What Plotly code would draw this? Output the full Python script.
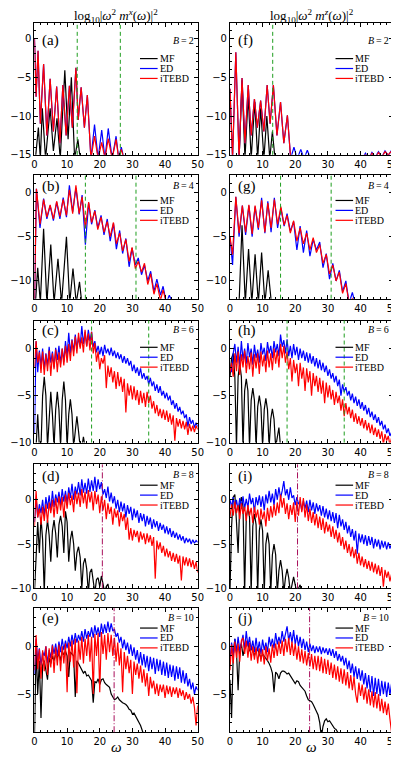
import plotly.graph_objects as go
from plotly.subplots import make_subplots

# ---- frequency grid shared by panels (c)-(j) ----
omega = [
    0.0, 0.5, 1.0, 1.5, 2.0, 2.5, 3.0, 3.5, 4.0, 4.5,
    5.0, 5.5, 6.0, 6.5, 7.0, 7.5, 8.0, 8.5, 9.0, 9.5,
    10.0, 10.5, 11.0, 11.5, 12.0, 12.5, 13.0, 13.5, 14.0, 14.5,
    15.0, 15.5, 16.0, 16.5, 17.0, 17.5, 18.0, 18.5, 19.0, 19.5,
    20.0, 20.5, 21.0, 21.5, 22.0, 22.5, 23.0, 23.5, 24.0, 24.5,
    25.0, 25.5, 26.0, 26.5, 27.0, 27.5, 28.0, 28.5, 29.0, 29.5,
    30.0, 30.5, 31.0, 31.5, 32.0, 32.5, 33.0, 33.5, 34.0, 34.5,
    35.0, 35.5, 36.0, 36.5, 37.0, 37.5, 38.0, 38.5, 39.0, 39.5,
    40.0, 40.5, 41.0, 41.5, 42.0, 42.5, 43.0, 43.5, 44.0, 44.5,
    45.0, 45.5, 46.0, 46.5, 47.0, 47.5, 48.0, 48.5, 49.0, 49.5,
    50.0,
]

# ---- (a) B=2, m^x ----
a_x = [0.0, 0.5, 1.1, 1.8, 2.8, 3.8, 4.8, 5.8, 6.8, 7.8, 8.7, 9.7, 10.7, 11.6, 12.7,
       13.4, 14.3, 15.3, 16.2, 17.3, 18.4, 19.5, 20.6, 21.6, 22.6, 23.8, 25.0, 25.8, 26.6, 27.4]
a_ed = [0.0, -7.5, -1.6, -11.0, -3.3, -12.5, -5.2, -12.0, -6.2, -13.5, -6.0, -12.5, -6.1, -11.5, -3.8,
        -10.5, -6.3, -11.5, -7.3, -15.5, -11.1, -15.5, -11.8, -15.5, -11.6, -15.5, -12.6, -15.5, -14.0, -15.5]
a_it = [0.0, -7.5, -1.6, -11.0, -3.3, -12.5, -5.2, -12.0, -6.2, -13.5, -6.0, -12.5, -6.1, -11.5, -3.8,
        -10.5, -6.3, -11.5, -7.3, -15.5, -12.6, -15.5, -13.4, -15.5, -12.9, -15.5, -13.0, -15.5, -14.3, -15.5]
a_mf_x = [0.3, 1.2, 1.8, 2.4, 3.4, 4.8, 5.8, 6.9, 7.9, 9.3, 10.3, 11.3, 12.3, 13.3, 14.0]
a_mf = [-15.5, -11.5, -15.5, -9.0, -15.5, -9.0, -14.5, -10.3, -15.5, -4.1, -13.0, -5.0, -15.5, -13.0, -15.5]

# ---- (f) B=2, m^z ----
f_x = [0.0, 0.8, 1.8, 2.8, 3.7, 4.6, 5.6, 6.5, 7.5, 8.4, 9.4, 10.4, 11.4, 12.3, 13.3, 14.4, 15.5, 16.5,
       17.6, 18.6, 19.6, 20.6, 21.7, 22.7, 23.7, 24.7,
       40.5, 41.5, 42.5, 43.5, 44.5, 45.5, 46.5, 47.5, 48.5, 49.5, 50.0]
f_ed = [-6.5, -15.5, -1.8, -15.5, -5.1, -13.5, -6.0, -12.5, -7.8, -11.5, -8.0, -12.0, -6.0, -11.0, -6.0,
        -12.5, -8.2, -13.5, -9.9, -15.5, -14.0, -15.5, -14.3, -15.5, -14.4, -15.5,
        -15.5, -14.8, -15.5, -14.7, -15.3, -14.6, -15.3, -14.5, -15.1, -14.4, -14.3]
f_it = [-6.5, -15.5, -1.8, -15.5, -5.1, -13.5, -6.0, -12.5, -7.8, -11.5, -8.0, -12.0, -6.0, -11.0, -6.0,
        -12.5, -8.2, -13.5, -9.9, -15.5, -15.2, -15.5, -15.4, -15.5, -15.5, -15.5,
        -15.5, -15.0, -15.5, -14.8, -15.4, -14.7, -15.3, -14.6, -15.0, -14.5, -14.4]
f_mf_x = [2.8, 3.7, 4.6, 5.6, 6.5, 7.6, 8.5, 9.4, 10.4, 11.3, 12.2, 13.0, 13.8]
f_mf = [-15.5, -5.4, -15.5, -7.4, -15.5, -8.2, -15.5, -9.0, -15.5, -10.0, -15.5, -12.0, -15.5]

# ---- (b) B=4, m^x ----
b_x = [0.0, 0.6, 1.7, 2.8, 3.8, 4.8, 5.8, 6.8, 7.8, 8.8, 9.8, 10.7, 11.7, 12.7, 13.7, 14.6, 15.6, 16.6,
       17.5, 18.5, 19.4, 20.4, 21.3, 22.3, 23.2, 24.2, 25.1, 26.1, 27.0, 28.0, 29.0, 29.9, 30.9, 31.8,
       32.8, 33.7, 34.7, 35.6, 36.6, 37.5, 38.6, 39.4, 40.4, 41.3, 42.3]
b_ed = [-12.5, 0.4, -4.0, -0.7, -3.0, -1.5, -3.2, -1.1, -3.0, -0.6, -2.8, 0.8, -2.2, 0.5, -2.5, -0.3,
        -5.9, -1.2, -3.6, -2.0, -4.0, -2.6, -4.8, -3.0, -5.5, -3.5, -6.4, -4.3, -6.9, -5.2, -8.4, -6.3,
        -8.2, -7.4, -9.3, -8.2, -10.0, -8.9, -11.2, -9.8, -11.6, -10.6, -12.5, -11.6, -12.5]
b_it = [-12.5, 0.4, -3.6, -0.8, -2.8, -1.4, -3.0, -1.0, -2.7, -0.8, -2.6, 0.3, -2.4, 0.8, -2.4, -0.5,
        -4.0, -1.1, -3.4, -2.1, -4.2, -2.8, -4.5, -3.3, -5.0, -3.4, -5.8, -4.6, -6.6, -5.3, -7.8, -6.2,
        -8.6, -7.8, -9.0, -8.0, -10.4, -9.2, -11.5, -10.3, -12.2, -11.0, -12.5, -12.3, -12.5]
b_mf_x = [0.3, 1.0, 1.8, 2.8, 3.8, 5.0, 6.0, 7.2, 8.3, 9.8, 10.8, 11.8, 12.8, 13.8, 14.5]
b_mf = [-12.5, -8.5, -12.5, -4.1, -12.5, -5.9, -12.5, -7.5, -12.5, -5.0, -12.5, -8.6, -12.5, -10.1, -12.5]

# ---- (g) B=4, m^z ----
g_x = [0.0, 0.8, 1.8, 2.8, 3.8, 4.8, 5.8, 6.8, 7.7, 8.7, 9.7, 10.7, 11.6, 12.6, 13.6, 14.6, 15.6, 16.6,
       17.5, 18.5, 19.5, 20.5, 21.5, 22.5, 23.5, 24.5, 25.5, 26.5, 27.5, 28.5, 29.5, 30.5, 31.5, 32.5,
       33.5, 34.5, 35.5, 36.5, 37.5, 38.3]
g_ed = [-5.0, -8.2, -0.5, -5.0, -1.5, -4.8, -1.5, -5.0, -1.6, -4.2, -0.6, -4.6, -1.0, -4.5, -0.6, -4.0,
        -1.8, -3.8, -2.4, -4.4, -3.3, -6.5, -3.8, -6.8, -4.3, -7.2, -5.3, -6.5, -5.6, -8.5, -6.9, -9.8,
        -8.0, -10.0, -8.8, -11.2, -10.0, -12.5, -11.3, -12.5]
g_it = [-5.0, -7.0, -0.5, -4.6, -1.5, -4.5, -1.4, -4.7, -1.5, -4.0, -0.9, -4.5, -1.2, -4.0, -0.8, -3.6,
        -1.6, -3.7, -2.6, -4.6, -3.2, -5.5, -4.0, -5.8, -4.6, -6.5, -5.1, -6.8, -5.9, -8.0, -7.0, -9.2,
        -8.2, -10.0, -9.0, -11.4, -10.3, -12.5, -12.0, -12.5]
g_mf_x = [2.8, 3.7, 4.7, 5.7, 6.7, 7.7, 8.7, 9.7, 10.7, 11.7, 12.7]
g_mf = [-12.5, -3.7, -12.5, -6.4, -12.5, -7.0, -12.5, -6.8, -12.5, -8.8, -12.5]

# ---- (c) B=6, m^x ----
c_ed = [-9.0, 0.8, -2.5, -0.2, -1.8, 0.0, -2.2, -0.5, -1.8, 0.2,
        -1.5, -0.3, -2.0, 0.1, -1.2, 0.3, -1.6, 0.0, -1.4, 0.8,
        -0.8, 1.7, -0.5, 1.0, -0.3, 1.5, 0.0, 1.2, 0.2, 2.4,
        0.5, 1.8, 0.3, 2.0, 0.8, 1.8, 0.2, 0.8, -0.4, 0.3,
        -0.6, 0.2, -0.8, 0.4, -0.5, 0.0, -0.7, 0.1, -0.8, -0.2,
        -1.0, -0.4, -1.1, -0.6, -1.5, -0.8, -1.6, -1.0, -1.8, -1.3,
        -2.4, -1.7, -2.6, -2.0, -2.9, -2.1, -3.2, -2.6, -3.3, -2.9,
        -3.8, -3.1, -4.0, -3.5, -4.5, -3.8, -4.7, -4.0, -5.0, -4.5,
        -5.3, -4.7, -5.5, -5.0, -6.0, -5.5, -6.4, -5.8, -6.7, -6.2,
        -7.0, -6.6, -7.4, -7.0, -8.3, -7.3, -8.0, -7.6, -8.4, -7.9,
        -8.3]
c_it = [-2.0, 0.8, -1.5, -0.4, -2.6, -0.3, -2.8, -0.6, -2.4, -0.2,
        -2.9, -0.5, -2.2, -0.1, -2.5, -0.4, -2.0, 0.0, -1.8, 0.3,
        -1.5, 0.5, -1.3, 0.9, -0.8, 1.3, -0.5, 1.7, 0.0, 1.2,
        -0.4, 2.0, 0.2, 1.6, -0.2, 1.8, -0.5, 0.6, -1.4, -0.3,
        -2.2, -1.0, -1.6, -0.7, -4.2, -1.8, -3.0, -2.0, -3.6, -2.4,
        -4.3, -2.5, -4.0, -3.0, -4.6, -3.2, -6.8, -3.7, -5.0, -3.9,
        -5.4, -4.0, -5.5, -4.4, -6.0, -4.5, -5.8, -4.7, -6.2, -4.6,
        -5.8, -5.0, -6.4, -5.6, -6.9, -6.0, -7.2, -6.4, -7.4, -6.5,
        -7.6, -6.6, -7.8, -6.9, -8.1, -7.1, -9.8, -7.4, -8.3, -7.5,
        -8.5, -7.7, -8.6, -7.8, -9.2, -8.0, -8.8, -8.2, -8.9, -8.2,
        -8.6]
c_mf = [-10.5, -10.5, -7.0, -10.5, -10.5, -5.0, -3.0, -5.0, -10.5, -7.0,
        -4.6, -7.0, -10.5, -6.5, -4.6, -6.5, -10.5, -5.5, -3.5, -5.5,
        -10.5, -7.0, -5.4, -7.0, -10.5, -8.8, -7.2, -8.8, -10.5, -10.5,
        -9.4, -10.5]

# ---- (h) B=6, m^z ----
h_ed = [-1.8, -2.5, -0.5, 0.5, -1.5, 0.2, -1.8, 0.8, -1.2, 0.0,
        -1.6, 0.6, -0.9, 0.0, -1.7, 0.4, -1.0, -0.1, -1.5, 0.6,
        -0.6, 0.1, -1.3, 0.7, -0.5, 0.3, -1.0, 0.8, -0.4, 0.5,
        -0.8, 1.5, 0.2, 0.9, -0.5, 1.0, -0.8, 0.3, -1.0, 0.5,
        -0.7, 0.2, -1.2, 0.0, -1.0, -0.2, -1.3, -0.4, -1.5, -0.5,
        -1.6, -0.8, -1.9, -1.0, -2.1, -1.2, -2.3, -1.5, -2.5, -1.8,
        -2.9, -2.2, -3.2, -2.6, -3.6, -2.9, -4.0, -3.3, -5.0, -3.8,
        -4.6, -4.1, -5.0, -4.5, -5.5, -4.8, -5.8, -5.1, -6.1, -5.4,
        -6.4, -5.7, -6.6, -6.0, -7.0, -6.3, -7.3, -6.7, -7.6, -7.0,
        -7.9, -7.3, -8.2, -7.7, -8.6, -8.1, -9.0, -8.5, -9.3, -8.9,
        -9.5]
h_it = [-2.5, -1.5, -3.0, -0.5, -2.4, -0.3, -2.8, -0.6, -2.0, -0.2,
        -2.6, -0.8, -2.2, -0.4, -3.0, -0.6, -2.1, -0.5, -2.7, -0.3,
        -1.9, -0.7, -2.5, -0.2, -2.0, -0.5, -2.3, 0.0, -1.6, -0.2,
        -2.0, 0.5, -1.0, 0.3, -1.5, -0.3, -2.2, -1.0, -3.5, -1.2,
        -2.6, -1.6, -4.0, -1.5, -3.2, -2.0, -4.5, -2.1, -3.6, -2.4,
        -5.0, -2.6, -4.0, -2.9, -4.6, -3.1, -4.8, -3.4, -5.8, -3.6,
        -5.2, -3.9, -5.4, -4.4, -6.0, -4.6, -5.8, -5.0, -6.6, -5.4,
        -7.2, -5.8, -7.0, -6.2, -7.4, -6.5, -7.8, -6.9, -8.0, -7.2,
        -8.2, -7.4, -8.5, -7.6, -8.7, -7.9, -9.0, -8.1, -9.2, -8.4,
        -9.4, -8.6, -9.6, -8.8, -10.2, -9.1, -9.8, -9.3, -10.3, -9.5,
        -9.8]
h_mf = [-3.0, -1.0, -0.5, -3.0, -10.5, -3.0, -1.6, -3.0, -10.5, -4.5,
        -3.2, -4.5, -10.5, -5.5, -4.2, -5.5, -10.5, -6.2, -5.0, -6.2,
        -10.5, -6.5, -5.3, -6.5, -10.5, -7.5, -6.4, -7.5, -10.5, -9.4,
        -8.4, -10.5]

# ---- (d) B=8, m^x ----
d_ed = [-2.5, 0.2, -2.0, -0.5, -1.5, 0.0, -1.8, 0.3, -1.0, 0.5,
        -1.2, 1.0, -0.8, 0.6, -0.3, 0.9, -0.6, 1.2, -0.2, 1.0,
        -0.4, 1.4, 0.2, 1.8, 0.0, 1.5, 0.6, 2.0, 0.5, 2.3,
        0.8, 1.9, 0.7, 2.4, 0.9, 2.2, 1.0, 2.6, 0.9, 2.3,
        1.2, 2.0, 0.6, 1.2, 0.2, 1.5, -0.2, 0.8, -0.4, 0.4,
        -1.0, 0.0, -1.4, -0.2, -1.3, -0.4, -2.0, -0.6, -1.6, -0.8,
        -2.3, -1.0, -2.0, -1.2, -2.6, -1.5, -2.4, -1.6, -3.0, -1.8,
        -2.8, -2.0, -3.3, -2.2, -3.1, -2.4, -3.5, -2.6, -3.4, -2.8,
        -3.8, -3.0, -3.9, -3.2, -4.2, -3.5, -4.3, -3.7, -4.5, -3.9,
        -4.6, -4.1, -4.9, -4.3, -4.8, -4.4, -5.0, -4.5, -4.9, -4.6,
        -4.8]
d_it = [-3.0, 1.0, -2.0, -1.0, -2.8, -0.8, -2.4, -0.5, -2.6, -0.3,
        -1.5, 0.0, -2.0, 0.2, -1.6, 0.4, -1.2, 0.3, -2.0, 0.6,
        -1.0, 0.8, -0.6, 0.5, -1.4, 1.0, -0.5, 0.8, -0.8, 1.2,
        -0.4, 0.9, -1.0, 1.1, -0.3, 0.9, -1.2, 1.0, -0.5, 0.6,
        -1.5, 0.4, -1.2, 0.0, -2.2, -0.4, -1.6, -0.8, -2.8, -1.0,
        -2.0, -1.2, -3.0, -1.4, -2.4, -1.6, -3.4, -2.0, -4.5, -3.2,
        -4.6, -3.4, -4.2, -3.5, -4.8, -3.6, -4.5, -3.8, -5.0, -3.8,
        -4.8, -4.0, -5.2, -4.2, -8.9, -4.6, -5.6, -4.8, -6.0, -5.2,
        -6.4, -5.5, -6.5, -5.8, -6.9, -6.0, -7.0, -6.1, -7.2, -6.3,
        -9.1, -6.4, -7.4, -6.5, -7.5, -6.6, -7.6, -6.8, -7.8, -7.0,
        -8.2]
d_mf = [-10.5, -6.0, -2.5, -6.0, -2.0, -4.5, -10.5, -4.0, -2.3, -4.0,
        -7.0, -3.5, -2.3, -3.8, -6.5, -2.8, -1.8, -3.0, -6.0, -1.3,
        -2.5, -7.0, -4.5, -3.5, -5.0, -8.0, -6.0, -5.3, -6.5, -10.0,
        -7.2, -6.6, -7.8, -10.5, -8.2, -7.8, -9.0, -10.5, -9.0, -8.8,
        -9.8, -8.6, -9.5, -10.5, -9.8, -9.5, -10.5]

# ---- (i) B=8, m^z ----
i_ed = [0.0, -0.8, 0.3, -1.0, 0.0, -1.2, 0.2, -0.8, 0.4, -1.0,
        0.1, -0.9, 0.7, -0.5, 0.2, -1.4, 0.3, -0.6, 0.5, -0.8,
        0.4, -1.2, 0.6, -0.4, 1.0, -0.3, 0.7, -0.6, 1.2, 0.0,
        1.4, 0.2, 1.0, 2.1, 0.5, 1.2, 0.0, 1.4, 0.2, 0.5,
        -0.6, 0.3, -0.5, -0.2, -1.2, -0.1, -1.0, -0.1, -1.4, 0.0,
        -1.2, -0.3, -1.6, -0.4, -1.3, -0.6, -1.8, -0.7, -2.0, -1.0,
        -2.2, -1.2, -2.4, -1.4, -2.6, -1.5, -3.2, -1.7, -3.0, -2.2,
        -3.4, -2.5, -3.8, -2.9, -4.2, -3.3, -4.6, -3.5, -6.1, -3.8,
        -4.8, -3.9, -5.0, -4.0, -5.2, -4.1, -5.1, -4.2, -5.5, -4.4,
        -5.3, -4.5, -5.6, -4.6, -5.4, -4.7, -5.6, -4.8, -5.5, -5.0,
        -5.1]
i_it = [-2.0, -0.5, -1.8, -0.2, -1.5, -0.6, -2.2, -0.4, -1.6, -0.8,
        -2.4, -0.6, -1.8, -0.9, -2.6, -0.8, -2.0, -1.1, -2.8, -1.0,
        -2.2, -1.3, -3.0, -0.9, -2.4, -0.7, -2.0, -0.5, -1.8, -0.3,
        -1.5, 0.6, -0.9, 0.2, -1.6, -0.4, -2.2, -0.6, -1.7, -0.3,
        -2.5, -0.2, -1.8, 0.3, -1.4, 0.2, -2.0, -0.5, -2.4, -1.0,
        -2.6, -1.4, -2.9, -1.6, -3.2, -1.9, -3.4, -2.1, -3.8, -2.5,
        -3.6, -2.8, -4.2, -3.0, -4.4, -3.4, -4.8, -3.7, -5.2, -4.2,
        -5.6, -4.6, -6.0, -5.0, -6.4, -5.3, -6.6, -5.6, -7.2, -6.0,
        -7.4, -6.4, -7.6, -6.7, -7.8, -6.9, -8.0, -7.0, -8.2, -7.2,
        -8.4, -7.4, -8.6, -7.6, -9.8, -7.9, -8.8, -8.1, -9.2, -8.4,
        -9.0]
i_mf = [-10.5, -3.0, 0.3, 0.6, -2.5, -6.0, -0.5, 0.3, -0.8, -10.5,
        -2.0, -0.9, -2.0, -10.5, -3.0, -1.6, -2.8, -10.5, -3.5, -2.2,
        -3.5, -10.5, -5.0, -3.7, -5.0, -10.5, -6.2, -5.0, -6.2, -10.5,
        -8.0, -6.8, -8.0, -10.5, -8.8, -7.8, -8.8, -10.5, -9.6, -8.7,
        -9.6, -10.5, -10.0, -9.6, -10.5]

# ---- (e) B=10, m^x ----
e_ed = [-3.0, 0.8, -1.5, -0.2, -2.0, -0.6, -1.0, 0.0, -1.8, -0.4,
        -1.2, 0.2, -0.8, 0.3, -1.0, 0.5, -0.6, 0.8, -0.4, 0.6,
        -0.2, 1.0, 0.0, 1.2, 0.2, 1.4, 0.4, 1.2, 0.6, 1.6,
        0.5, 1.8, 0.8, 1.6, 1.0, 2.0, 0.9, 2.2, 1.2, 2.0,
        1.0, 2.4, 1.3, 2.3, 1.4, 2.6, 1.5, 2.4, 1.6, 1.8,
        1.0, 1.4, 0.4, 1.0, -0.2, 0.7, -0.4, 0.4, -0.8, 0.2,
        -1.0, -0.1, -1.4, -0.4, -1.8, -0.6, -2.0, -0.8, -2.2, -1.0,
        -2.6, -1.1, -2.4, -1.2, -2.9, -1.3, -2.6, -1.4, -3.0, -1.6,
        -3.1, -1.7, -3.3, -1.9, -3.2, -2.0, -3.6, -2.1, -3.4, -2.2,
        -3.8, -2.5, -3.9, -2.8, -4.2, -3.4, -4.5, -3.8, -5.0, -4.2,
        -4.6]
e_it = [-2.5, 1.2, -2.4, -0.3, -3.4, -0.4, -2.6, 0.0, -3.0, -0.2,
        -2.2, 0.1, -2.8, -0.1, -2.0, 0.2, -2.6, 0.0, -1.8, 0.3,
        -4.8, 0.4, -1.6, 0.6, -2.2, 0.8, -4.9, 0.6, -1.4, 1.0,
        -1.8, 0.8, -1.0, 1.2, -1.6, 1.0, -5.0, 1.3, -1.0, 1.4,
        -4.8, 1.5, -0.8, 1.2, -1.4, 1.4, -0.6, 1.2, -1.0, 0.9,
        -1.6, 0.4, -2.0, -0.2, -4.8, -0.6, -2.4, -1.0, -2.8, -1.4,
        -5.0, -1.6, -3.0, -1.8, -3.4, -2.0, -3.8, -2.4, -4.2, -2.8,
        -5.2, -3.2, -4.4, -3.6, -5.0, -3.9, -5.2, -4.0, -4.8, -4.0,
        -5.4, -4.1, -5.0, -4.2, -5.3, -4.3, -5.0, -4.3, -5.4, -4.4,
        -5.2, -4.6, -5.6, -4.8, -5.5, -5.0, -6.0, -5.3, -6.4, -8.3,
        -6.2]
e_mf = [-9.5, 0.0, -5.0, -1.5, -7.5, -2.0, -1.5, -2.5, -3.5, -1.2,
        -1.8, -1.0, -1.5, -0.8, -1.2, -0.7, -1.5, -0.5, -0.9, -0.5,
        -1.0, -3.2, -0.6, -0.8, -1.0, -5.3, -1.5, -1.8, -2.1, -2.4,
        -2.8, -2.6, -3.1, -3.0, -3.4, -3.6, -5.9, -3.7, -3.8, -3.4,
        -4.0, -3.5, -3.4, -3.8, -4.0, -4.2, -4.3, -5.0, -5.3, -5.6,
        -5.5, -5.3, -5.6, -5.8, -5.9, -6.0, -6.1, -6.3, -6.6, -6.7,
        -7.1, -7.0, -7.3, -7.6, -7.9, -8.3, -8.8, -9.3]

# ---- (j) B=10, m^z ----
j_ed = [-1.5, 0.4, -1.0, 0.8, -0.6, 1.0, -0.5, 0.6, 1.2, -0.3,
        1.6, 0.0, 1.0, -0.4, 0.6, -0.6, 0.9, -0.5, 0.5, -0.8,
        0.7, -0.4, 0.4, -0.6, 1.0, 0.0, 0.8, -0.2, 1.4, 0.2,
        1.0, 0.3, 1.6, 0.5, 1.2, 2.1, 0.6, 1.5, 0.4, 1.7,
        0.2, 1.2, 0.0, 1.0, -0.2, 0.8, -0.4, 0.5, -0.6, 0.3,
        -0.5, 0.1, -0.7, 0.0, -0.6, 0.0, -0.8, -0.1, -0.7, -0.2,
        -0.9, -0.2, -1.0, -0.3, -1.2, -0.5, -1.5, -0.8, -1.6, -1.0,
        -2.0, -1.2, -2.4, -1.5, -2.8, -1.8, -3.2, -2.1, -3.4, -2.3,
        -3.6, -2.5, -4.0, -2.8, -4.4, -3.0, -4.8, -3.1, -5.2, -3.3,
        -5.0, -3.4, -5.2, -3.6, -5.0, -3.7, -5.3, -3.8, -5.1, -3.9,
        -4.2]
j_it = [-2.5, 0.2, -1.8, 0.5, -1.2, 0.3, -1.6, 0.6, 0.9, -0.8,
        0.6, -1.2, 0.4, -1.5, 0.0, -1.4, -0.1, -1.8, -0.2, -1.6,
        -0.3, -1.9, 0.0, -1.5, -0.2, -1.7, 0.2, -1.2, 0.3, -1.0,
        0.5, -0.8, 0.6, -1.0, 0.8, -0.6, 0.9, -0.9, 0.5, -1.0,
        0.3, -1.4, 0.0, -1.6, -0.3, -1.8, -0.5, -2.0, -0.7, -2.1,
        -0.8, -2.4, -1.0, -2.5, -1.0, -2.6, -1.1, -2.8, -1.3, -2.9,
        -1.4, -3.0, -1.7, -3.3, -1.9, -3.5, -2.1, -3.7, -2.3, -3.9,
        -2.4, -4.1, -2.7, -4.4, -3.0, -4.6, -3.2, -5.0, -5.9, -3.8,
        -5.2, -4.0, -5.6, -4.3, -6.0, -4.5, -6.2, -4.7, -6.4, -4.8,
        -6.5, -5.0, -6.8, -5.5, -7.0, -5.8, -7.2, -6.0, -7.6, -9.0,
        -6.6]
j_mf = [-3.5, -7.5, -1.0, 0.8, -0.5, -4.6, -0.5, 0.3, -1.0, -0.2,
        0.2, 0.4, -0.5, -0.2, -0.5, -1.0, -0.3, -0.3, -0.8, -1.2,
        -0.8, -1.0, -1.3, -1.5, -1.8, -2.2, -2.8, -4.8, -2.7, -2.9,
        -3.4, -2.8, -2.6, -2.6, -2.7, -2.9, -2.8, -3.1, -3.3, -3.6,
        -3.9, -3.6, -3.7, -4.1, -4.3, -4.5, -4.7, -5.2, -5.6, -5.7,
        -5.8, -6.1, -6.5, -6.8, -7.2, -8.0, -9.5, -8.4, -7.8, -7.6,
        -7.9, -7.8, -8.1, -8.3, -8.6, -8.7, -9.0, -9.3]

# characteristic frequencies (vertical markers)
vl_a = [13.1, 26.3]
vl_f = [13.1]
vl_b = [15.6, 31.1]
vl_g = [15.5, 31.0]
vl_c = [17.5, 35.0]
vl_h = [17.5, 35.0]
vl_d = [20.8]
vl_i = [20.7]
vl_e = [24.4]
vl_j = [24.4]

y_ranges = [[-15, 2], [-12, 2], [-10, 3], [-10, 4], [-9, 4]]
b_values = ["2", "4", "6", "8", "10"]

GREEN = dict(color="#1f9e1f", width=1, dash="4px,3px")
PURPLE = dict(color="#a8105c", width=1, dash="6px,2px,1px,2px")

# row, col, tag, (ed), (it), (mf), vlines, style
panels = [
    (1, 1, "(a)", (a_x, a_ed), (a_x, a_it), (a_mf_x, a_mf), vl_a, GREEN),
    (1, 2, "(f)", (f_x, f_ed), (f_x, f_it), (f_mf_x, f_mf), vl_f, GREEN),
    (2, 1, "(b)", (b_x, b_ed), (b_x, b_it), (b_mf_x, b_mf), vl_b, GREEN),
    (2, 2, "(g)", (g_x, g_ed), (g_x, g_it), (g_mf_x, g_mf), vl_g, GREEN),
    (3, 1, "(c)", (omega, c_ed), (omega, c_it), (omega[:len(c_mf)], c_mf), vl_c, GREEN),
    (3, 2, "(h)", (omega, h_ed), (omega, h_it), (omega[:len(h_mf)], h_mf), vl_h, GREEN),
    (4, 1, "(d)", (omega, d_ed), (omega, d_it), (omega[:len(d_mf)], d_mf), vl_d, PURPLE),
    (4, 2, "(i)", (omega, i_ed), (omega, i_it), (omega[:len(i_mf)], i_mf), vl_i, PURPLE),
    (5, 1, "(e)", (omega, e_ed), (omega, e_it), (omega[:len(e_mf)], e_mf), vl_e, PURPLE),
    (5, 2, "(j)", (omega, j_ed), (omega, j_it), (omega[:len(j_mf)], j_mf), vl_j, PURPLE),
]

W, H = 399, 758
x_dom = [[24 / W, 191 / W], [224 / W, 391 / W]]
y_px = [(15, 148), (168, 293), (315, 438), (460, 585), (605, 730)]
y_dom = [[1 - b / H, 1 - t / H] for t, b in y_px]
tag_off = [18, 12, 10, 12, 10]
b_off = [18, 11, 9, 10, 9]
leg_off = [[36, 46, 56], [26, 36, 46], [27, 37, 47], [21, 31, 41], [20, 30, 40]]

SERIF = "Liberation Serif, Times New Roman, serif"
SANS = "DejaVu Sans, sans-serif"

fig = make_subplots(rows=5, cols=2)

series_style = [("MF", "black"), ("ED", "#0000ff"), ("iTEBD", "#ff0000")]

for r, c, tag, ed, it, mf, vls, vstyle in panels:
    for (name, color), (xs, ys) in zip(series_style, [mf, ed, it]):
        fig.add_trace(go.Scatter(x=xs, y=ys, mode="lines", name=name,
                                 line=dict(color=color, width=1.2),
                                 showlegend=False, hoverinfo="skip"),
                      row=r, col=c)
    for v in vls:
        fig.add_vline(x=v, line=vstyle, row=r, col=c)

    idx = (r - 1) * 2 + c
    sfx = "" if idx == 1 else str(idx)
    xr, yr = "x" + sfx, "y" + sfx
    fig.layout["xaxis" + sfx].domain = x_dom[c - 1]
    fig.layout["yaxis" + sfx].domain = y_dom[r - 1]
    fig.layout["yaxis" + sfx].range = y_ranges[r - 1]

    ph = y_px[r - 1][1] - y_px[r - 1][0]
    pw = 167
    fig.add_annotation(text=tag, xref=xr + " domain", yref=yr + " domain",
                       x=6 / pw, y=1 - tag_off[r - 1] / ph, xanchor="left", yanchor="middle",
                       showarrow=False, font=dict(family=SERIF, size=15, color="black"))
    fig.add_annotation(text="<i>B</i>\u2009=\u2009" + b_values[r - 1], xref=xr + " domain",
                       yref=yr + " domain", x=1 - 3 / pw, y=1 - b_off[r - 1] / ph,
                       xanchor="right", yanchor="middle", showarrow=False, borderpad=0,
                       font=dict(family=SERIF, size=10, color="black"))
    for (name, color), off in zip(series_style, leg_off[r - 1]):
        ly = 1 - off / ph
        fig.add_shape(type="line", xref=xr + " domain", yref=yr + " domain",
                      x0=108 / pw, x1=126 / pw, y0=ly, y1=ly,
                      line=dict(color=color, width=1.2))
        fig.add_annotation(text=name, xref=xr + " domain", yref=yr + " domain",
                           x=127 / pw, y=ly, xanchor="left", yanchor="middle", showarrow=False,
                           borderpad=0, font=dict(family=SERIF, size=10, color="black"))

fig.update_xaxes(range=[0, 50], dtick=10, tick0=0, showline=True, linecolor="black", linewidth=1,
                 mirror="allticks", ticks="inside", ticklen=4, tickcolor="black",
                 minor=dict(dtick=2, ticks="inside", ticklen=2, tickcolor="black"),
                 showgrid=False, zeroline=False,
                 tickfont=dict(family=SANS, size=10, color="black"))
fig.update_yaxes(dtick=5, tick0=0, showline=True, linecolor="black", linewidth=1,
                 mirror="allticks", ticks="inside", ticklen=4, tickcolor="black",
                 minor=dict(dtick=1, ticks="inside", ticklen=2, tickcolor="black"),
                 showgrid=False, zeroline=False,
                 tickfont=dict(family=SANS, size=10, color="black"))

titles = ["log<sub>10</sub>|<i>ω</i><sup>2</sup> <i>m</i><sup><i>x</i></sup>(<i>ω</i>)|<sup>2</sup>",
          "log<sub>10</sub>|<i>ω</i><sup>2</sup> <i>m</i><sup><i>z</i></sup>(<i>ω</i>)|<sup>2</sup>"]
for k, t in enumerate(titles):
    cx = (x_dom[k][0] + x_dom[k][1]) / 2
    fig.add_annotation(text=t, xref="paper", yref="paper", x=cx, y=1 - 8 / H,
                       xanchor="center", yanchor="middle", showarrow=False,
                       font=dict(family=SERIF, size=13, color="black"))
    fig.add_annotation(text="<i>ω</i>", xref="paper", yref="paper", x=cx, y=1 - 745 / H,
                       xanchor="center", yanchor="middle", showarrow=False,
                       font=dict(family=SERIF, size=15, color="black"))

fig.update_layout(width=W, height=H, margin=dict(l=0, r=0, t=0, b=0),
                  paper_bgcolor="white", plot_bgcolor="white", showlegend=False)

fig.write_html("out.html")
